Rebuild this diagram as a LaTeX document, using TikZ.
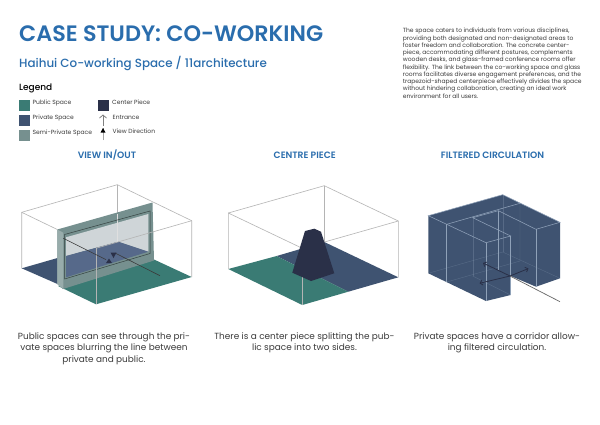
\documentclass[tikz,border=0pt]{standalone}
\usepackage{fontspec}
\setmainfont{Poppins}
\newfontfamily\pmed{Poppins Medium}
\newfontfamily\psemi{Poppins SemiBold}
\usetikzlibrary{arrows.meta}
\definecolor{blueT}{HTML}{2A6DAD}
\definecolor{teal}{HTML}{3A7B74}
\definecolor{navy}{HTML}{3F5371}
\definecolor{semi}{HTML}{76908F}
\definecolor{dark}{HTML}{2A3048}
\definecolor{wire}{HTML}{B4B4B4}
\definecolor{ink}{HTML}{3A3A3A}
\definecolor{edge}{HTML}{8FA1B8}
\definecolor{glass}{HTML}{CFD5D8}
\definecolor{glassfloor}{HTML}{56698A}
\tikzset{
 title/.style={anchor=base west,inner sep=0,text=blueT,font=\fontsize{22.3}{26}\psemi},
 subtitle/.style={anchor=base west,inner sep=0,text=blueT,font=\fontsize{11.9}{14}\pmed},
 legendhead/.style={anchor=base west,inner sep=0,text=black,font=\fontsize{9}{10}\pmed},
 legendtext/.style={anchor=base west,inner sep=0,text=ink,font=\fontsize{6}{7}\selectfont},
 swatch/.style={minimum width=11pt,minimum height=11pt,inner sep=0,anchor=north west},
 body/.style={anchor=north west,inner sep=0,align=left,text=ink,font=\fontsize{6}{7.27}\selectfont},
 head/.style={anchor=base,inner sep=0,text=blueT,font=\fontsize{9.2}{10}\psemi},
 caption/.style={anchor=north,inner sep=0,align=center,text=ink,font=\fontsize{8.9}{11.7}\selectfont},
 wireline/.style={draw=wire,line width=0.6pt},
 edgeline/.style={draw=edge,line width=0.55pt},
 faintline/.style={draw=edge,line width=0.4pt,opacity=0.3},
 viewline/.style={draw=ink,line width=0.6pt},
 corridor/.style={draw=dark,line width=0.8pt,-{Straight Barb[length=2.5pt,width=5pt]}},
}
\begin{document}
\begin{tikzpicture}[x=1pt,y=-1pt]
\useasboundingbox (0,0) rectangle (600,424);
\fill[white] (0,0) rectangle (600,424);
\node[title] (t) at (19,41) {CASE STUDY: CO-WORKING};
\node[subtitle] (st) at (19,67) {Haihui Co-working Space / 11architecture};
\node[legendhead] (lg) at (19,90.5) {Legend};
\node[swatch,fill=teal] (s1) at (18.5,99.3) {};
\node[swatch,fill=navy] (s2) at (18.5,114.3) {};
\node[swatch,fill=semi] (s3) at (18.5,129.3) {};
\node[swatch,fill=dark] (s4) at (97.3,99.3) {};
\node[legendtext] (l1) at (32.5,104.7) {Public Space};
\node[legendtext] (l2) at (32.5,119.7) {Private Space};
\node[legendtext] (l3) at (32.5,134.7) {Semi-Private Space};
\node[legendtext] (l4) at (112,104.7) {Center Piece};
\node[legendtext] (l5) at (112.5,119.7) {Entrance};
\node[legendtext] (l6) at (112.5,133.7) {View Direction};
\coordinate (e1) at (103,126); \coordinate (e2) at (103,114.5);
\coordinate (v1) at (103,140); \coordinate (v2) at (103,128);
\draw[draw=gray,line width=0.8pt,-{Straight Barb[length=3pt,width=7pt]}] (e1) -- (e2);
\draw[draw=gray!70,line width=0.8pt] (v1) -- (v2);
\fill[black] (103,128) -- (100.5,132.5) -- (105.5,132.5) -- cycle;
\node[body] (b) at (402.7,28) {The space caters to individuals from various disciplines,\\
providing both designated and non-designated areas to\\
foster freedom and collaboration. The concrete center-\\
piece, accommodating different postures, complements\\
wooden desks, and glass-framed conference rooms offer\\
flexibility. The link between the co-working space and glass\\
rooms facilitates diverse engagement preferences, and the\\
trapezoid-shaped centerpiece effectively divides the space\\
without hindering collaboration, creating an ideal work\\
environment for all users.};
\node[head] (h1) at (107,158.7) {VIEW IN/OUT};
\node[head] (h2) at (304.7,158.7) {CENTRE PIECE};
\node[head] (h3) at (492.5,158.7) {FILTERED CIRCULATION};
\node[caption] (c1) at (104,332.3) {Public spaces can see through the pri-\\vate spaces blurring the line between\\private and public.};
\node[caption] (c2) at (304.5,332.3) {There is a center piece splitting the pub-\\lic space into two sides.};
\node[caption] (c3) at (497,332.3) {Private spaces have a corridor allow-\\ing filtered circulation.};
% box 1
\draw[wireline] (117.3,184.7) -- (117.3,242);
\fill[navy] (21.7,268.3) -- (57.5,258) -- (57.5,284) -- cycle;
\fill[teal] (58,286) -- (154,259.5) -- (191.7,277) -- (96,304.3) -- cycle;
\fill[semi] (57.3,229.5) -- (152.5,202.5) -- (154,260.5) -- (63,289) -- (57.3,284) -- cycle;
\fill[white!25!semi] (57.3,229.5) -- (63.3,232.7) -- (63.3,289) -- (57.3,284) -- cycle;
\fill[glass] (66,237.3) -- (148.3,214) -- (148.3,251.7) -- (118.3,241.7) -- (66,256) -- cycle;
\fill[glassfloor] (66,256) -- (118.3,241.7) -- (148.3,251.7) -- (66,277.3) -- cycle;
\draw[draw=white!75!gray,line width=0.5pt] (117.3,214) -- (117.3,242);
\draw[draw=semi!45!black,line width=0.5pt] (64.5,234.5) -- (150,211) -- (150,253.5) -- (64.5,279) -- cycle;
\draw[wireline] (21.7,268.3) -- (21.7,212.3) -- (117.3,184.7) -- (191.7,220.7) -- (191.7,277);
\draw[wireline] (21.7,212.3) -- (57.3,229.5);
\draw[wireline] (96,248.3) -- (191.7,220.7);
\draw[wireline] (96,248.3) -- (96,304.3);
\coordinate (a1) at (63.3,238.3); \coordinate (a2) at (106,259.6);
\coordinate (b1) at (160,275.7); \coordinate (b2) at (115,253);
\draw[viewline] (a1) -- (a2);
\draw[viewline] (b1) -- (b2);
\fill[dark] (109,258.5) -- (106,263) -- (112,263) -- cycle;
\fill[dark] (113.5,258) -- (110.5,252.5) -- (116.5,252.5) -- cycle;
% box 2
\fill[navy] (276.7,256) -- (324.3,242) -- (398.3,277.3) -- (348.3,291.7) -- cycle;
\fill[teal] (228.3,269) -- (276.7,256) -- (348.3,291.7) -- (302.3,305) -- cycle;
\draw[wireline] (324.3,185.7) -- (324.3,242);
\draw[wireline] (228.3,269) -- (228.3,213) -- (324.3,185.7) -- (398.3,221) -- (398.3,277.3);
\draw[wireline] (228.3,213) -- (302.3,248.3) -- (398.3,221);
\draw[wireline] (302.3,248.3) -- (302.3,305);
\fill[dark] (305,231) -- (314.3,228.7) -- (321,231.7) -- (334.3,273.3) -- (311,281) -- (292.3,272.7) -- cycle;
% box 3
\fill[navy] (428.3,215.7) -- (502.7,194.7) -- (560,222.3) -- (560,278.3) -- (536,286.7) -- (510.7,276) -- (510.7,295) -- (486,301) -- (428.3,273.3) -- cycle;
\draw[faintline] (428.3,273.3) -- (502.7,252) -- (560,278.3);
\draw[faintline] (502.7,194.7) -- (502.7,252);
\draw[faintline] (472.7,217.7) -- (472.7,276);
\draw[faintline] (446.7,282) -- (520,261) -- (520,203.3);
\draw[faintline] (472.7,276) -- (510.7,295);
\draw[edgeline] (428.3,215.7) -- (502.7,194.7) -- (560,222.3) -- (536,229.3) -- (498.3,210.7) -- (472.7,217.7) -- (510.7,236) -- (486,242.7) -- cycle;
\draw[edgeline] (486,242.7) -- (486,301);
\draw[edgeline] (510.7,236) -- (510.7,295);
\draw[edgeline] (536,229.3) -- (536,286.7);
\draw[edgeline] (446.7,224.3) -- (446.7,282);
\draw[edgeline] (446.7,224.3) -- (520,203.3);
\draw[edgeline] (498.3,210.7) -- (498.3,270);
\coordinate (d0) at (560,301.7); \coordinate (d1) at (510,276);
\coordinate (d2) at (483,263); \coordinate (d3) at (479.5,283.3); \coordinate (d4) at (528.5,268.5);
\draw[draw=gray!80!black,line width=0.7pt] (d0) -- (d1);
\draw[corridor] (d1) -- (d2);
\draw[corridor] (d1) -- (d3);
\draw[corridor] (d1) -- (d4);
\end{tikzpicture}
\end{document}
